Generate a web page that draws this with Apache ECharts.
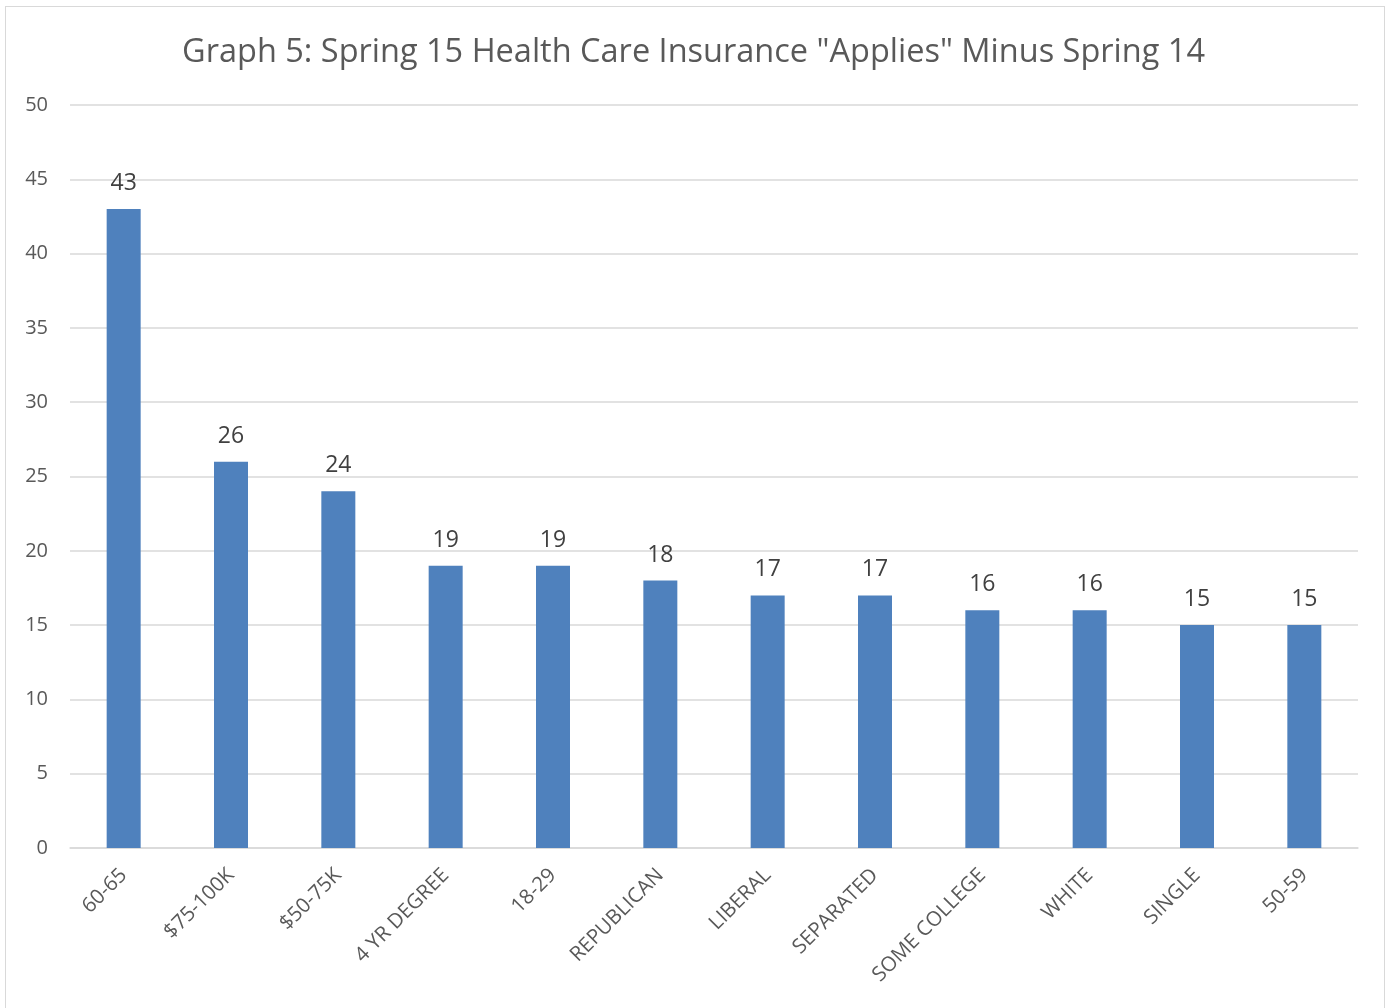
<!DOCTYPE html>
<html>
<head>
<meta charset="utf-8">
<script src="https://cdn.jsdelivr.net/npm/echarts@6/dist/echarts.min.js"></script>
<style>
  html, body { margin: 0; padding: 0; background: #fff; }
  #frame {
    position: absolute; left: 5px; top: 6px; width: 1380px; height: 1010px;
    border: 1px solid #d9d9d9; box-sizing: border-box;
  }
  #chart { position: absolute; left: 0; top: 0; width: 1387px; height: 1008px; }
</style>
</head>
<body>
<div id="frame"></div>
<div id="chart"></div>
<script>
const categories = ["60-65", "$75-100K", "$50-75K", "4 YR DEGREE", "18-29", "REPUBLICAN",
  "LIBERAL", "SEPARATED", "SOME COLLEGE", "WHITE", "SINGLE", "50-59"]
const values = [43, 26, 24, 19, 19, 18, 17, 17, 16, 16, 15, 15]
const titleText = 'Graph 5: Spring 15 Health Care Insurance "Applies" Minus Spring 14'

const chart = echarts.init(document.getElementById("chart"))
chart.setOption({
  animation: false,
  textStyle: { fontFamily: "Open Sans" },
  title: {
    text: titleText,
    left: "center",
    top: 31,
    textStyle: { fontSize: 32.5, fontWeight: "normal", color: "#595959", fontFamily: "Open Sans" }
  },
  grid: { left: 70, right: 29, top: 105, bottom: 160 },
  xAxis: {
    type: "category",
    data: categories,
    axisTick: { show: false },
    axisLine: { lineStyle: { color: "#d9d9d9", width: 1.5 } },
    axisLabel: { rotate: 45, fontSize: 20.5, color: "#595959", margin: 24, interval: 0 }
  },
  yAxis: {
    type: "value",
    min: 0,
    max: 50,
    interval: 5,
    axisLine: { show: false },
    axisTick: { show: false },
    axisLabel: { fontSize: 20, color: "#595959", margin: 22 },
    splitLine: { lineStyle: { color: "#d9d9d9", width: 1.5 } }
  },
  series: [
    {
      type: "bar",
      data: values,
      barWidth: 34,
      itemStyle: { color: "#4f81bd" },
      label: { show: true, position: "top", fontSize: 23, color: "#404040", distance: 14 }
    }
  ]
})
</script>
</body>
</html>
